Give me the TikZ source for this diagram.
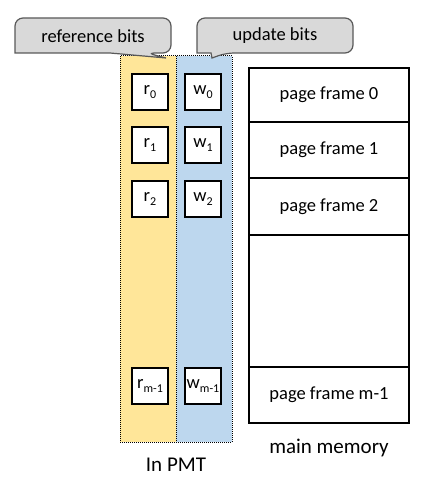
\documentclass[tikz,border=0pt]{standalone}
\usepackage{fontspec}
\setmainfont{Carlito}
\usetikzlibrary{positioning}
\definecolor{refyel}{HTML}{FFE699}
\definecolor{updblu}{HTML}{BDD7EE}
\definecolor{callgray}{HTML}{D9D9D9}
\definecolor{calledge}{HTML}{595959}
\newcommand{\bitsub}[1]{\raisebox{-3.5pt}{\fontsize{12}{14}\selectfont #1}}

\begin{document}
\begin{tikzpicture}[x=1pt, y=-1pt, font=\fontsize{18.5}{22}\selectfont,
  col/.style={draw, densely dotted, line width=1pt, minimum width=56pt, minimum height=386pt, inner sep=0pt},
  bitbox/.style={draw, line width=1.2pt, fill=white, minimum size=36pt, inner sep=0pt},
  frame/.style={draw, line width=1.2pt, minimum width=160pt, inner sep=0pt},
  callshape/.style={draw=calledge, fill=callgray, line width=1.2pt},
  caption/.style={font=\fontsize{21}{25}\selectfont, anchor=base}]
\useasboundingbox (0,0) rectangle (435,484);
% PMT columns
\node[col, fill=refyel] (refcol) at (148,249) {};
\node[col, fill=updblu] (updcol) at (204,249) {};
\foreach \i/\y/\s in {0/92/0, 1/145/1, 2/199/2, m/386/m-1} {
  \node[bitbox] (r\i) at (150,\y) {r\bitsub{\s}};
  \node[bitbox] (w\i) at (203,\y) {w\bitsub{\s}};
}
% main memory
\foreach \n/\y/\h/\t in {pf0/95/54/page frame 0, pf1/150/56/page frame 1, pf2/206.5/57/page frame 2, pfgap/301/132/, pfm/395/56/page frame m-1}
  \node[frame, minimum height=\h pt] (\n) at (329,\y) {\t};
% callouts
\draw[callshape] (166,58) -- (110,53) -- (15,53) [rounded corners=8] -- (15,18) -- (171,18) -- (171,53) -- (147,53) [sharp corners] -- cycle;
\node (refbits) at (93,36) {reference bits};
\draw[callshape] (212,58) -- (211,53) -- (197,53) [rounded corners=8] -- (197,18) -- (353,18) -- (353,53) -- (226,53) [sharp corners] -- cycle;
\node (updbits) at (275,36) {update bits};
\node[caption] (pmtlab) at (176,471) {In PMT};
\node[caption] (memlab) at (329,453) {main memory};
\end{tikzpicture}
\end{document}
